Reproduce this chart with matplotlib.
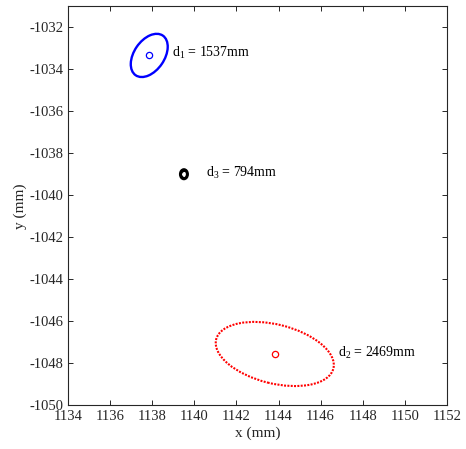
import matplotlib
matplotlib.use("Agg")
import matplotlib.pyplot as plt
from matplotlib.patches import Ellipse

plt.rcParams['font.family'] = ['Liberation Serif', 'DejaVu Serif']
plt.rcParams['mathtext.fontset'] = 'custom'
plt.rcParams['mathtext.rm'] = 'Liberation Serif'
plt.rcParams['mathtext.it'] = 'Liberation Serif'
plt.rcParams['axes.unicode_minus'] = False

# Error ellipses for three targets (mm)
names = ["1", "2", "3"]
center_x = [1137.85, 1143.82, 1139.50]
center_y = [-1033.35, -1047.55, -1039.00]
semi_major = [1.143, 2.873, 0.215]
semi_minor = [0.722, 1.402, 0.165]
angle_deg = [55.6, -13.9, 90.0]
distances = [1537, 2469, 794]
colors = ["#0000ff", "#ff0000", "#000000"]
line_styles = ["-", (0, (0.95, 0.65)), "-"]
line_widths = [1.7, 1.5, 2.2]

# Label anchors (data coordinates)
label_x = [1138.95, 1146.83, 1140.54]
label_y = [-1033.44, -1047.68, -1039.12]

xticks = list(range(1134, 1153, 2))
yticks = list(range(-1050, -1031, 2))

fig = plt.figure(figsize=(4.66, 4.49), dpi=100)
ax = fig.add_axes([0.1466, 0.0969, 0.812, 0.8897])

for i in range(3):
    e = Ellipse((center_x[i], center_y[i]), 2 * semi_major[i], 2 * semi_minor[i],
                angle=angle_deg[i], fill=False, edgecolor=colors[i],
                linestyle=line_styles[i], linewidth=line_widths[i])
    ax.add_patch(e)
    ax.plot(center_x[i], center_y[i], 'o', mfc='none', mec=colors[i],
            markersize=4.5, markeredgewidth=0.9)
    ax.text(label_x[i], label_y[i], r"d$_{%s}$ = %dmm" % (names[i], distances[i]),
            fontsize=10, va='baseline', ha='left', color='black')

ax.set_xlim(1134, 1152)
ax.set_ylim(-1050, -1031)
ax.set_xticks(xticks)
ax.set_yticks(yticks)
ax.tick_params(direction='in', top=True, right=True, length=3.5, width=0.7,
               labelsize=10.5, colors='#262626', labelcolor='#262626')
for s in ax.spines.values():
    s.set_linewidth(0.8)
    s.set_color('#262626')
ax.set_xlabel("x (mm)", fontsize=11, color='#262626', labelpad=2)
ax.set_ylabel("y (mm)", fontsize=11, color='#262626', labelpad=2)

fig.savefig("out.png", dpi=100)
